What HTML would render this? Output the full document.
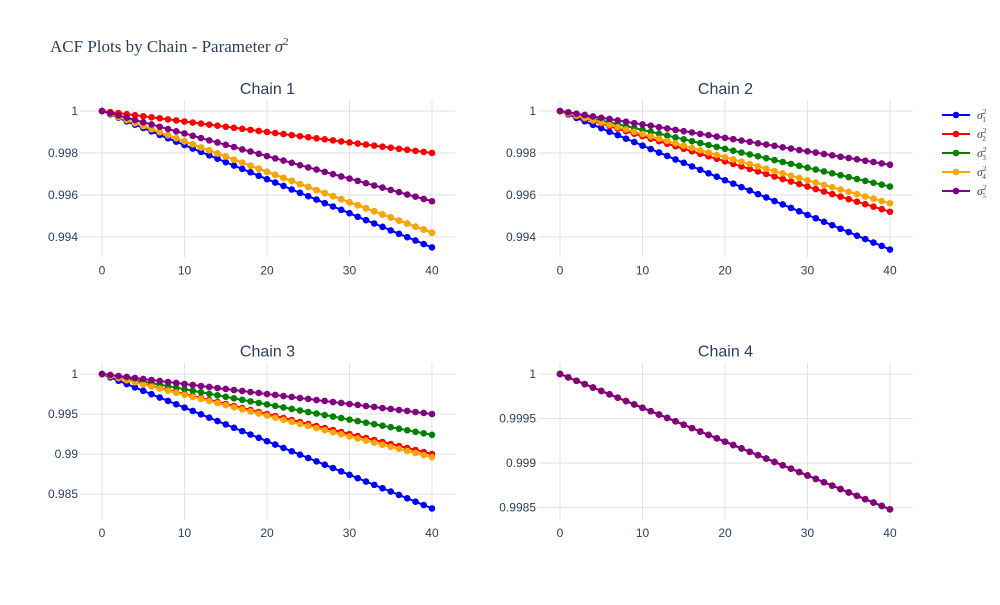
<!DOCTYPE html>
<html><head><meta charset="utf-8"><style>
body{margin:0;background:#fff;font-family:"Liberation Sans",sans-serif}
svg text{font-family:"Liberation Sans",sans-serif}
</style></head><body>
<svg id="c" width="1000" height="600" viewBox="0 0 1000 600" xmlns="http://www.w3.org/2000/svg">
<text x="50" y="52" font-size="17" fill="#2a3f5f" style="font-family:'Liberation Serif',serif">ACF Plots by Chain - Parameter <tspan font-style="italic">σ</tspan><tspan font-size="11" dy="-7">2</tspan></text>
</svg>
<script>
const lags=[...Array(41).keys()];
const seriesNames=['σ1','σ2','σ3','σ4','σ5'];
const colors=['#0000ff','#ff0000','#008000','#ffa500','#800080'];
const c1Blue=[1,.99984,.99968,.99951,.99935,.99919,.99903,.99886,.9987,.99854,.99838,.99821,.99805,.99789,.99773,.99756,.9974,.99724,.99708,.99691,.99675,.99659,.99643,.99626,.9961,.99594,.99578,.99561,.99545,.99529,.99513,.99496,.9948,.99464,.99448,.99431,.99415,.99399,.99383,.99366,.9935];
const c1Red=[1,.99995,.9999,.99985,.9998,.99975,.9997,.99965,.9996,.99955,.9995,.99945,.9994,.99935,.9993,.99925,.9992,.99915,.9991,.99905,.999,.99895,.9989,.99885,.9988,.99875,.9987,.99865,.9986,.99855,.9985,.99845,.9984,.99835,.9983,.99825,.9982,.99815,.9981,.99805,.998];
const c1Green=[1,.99986,.99971,.99957,.99942,.99928,.99913,.99899,.99884,.9987,.99855,.99841,.99826,.99812,.99797,.99783,.99768,.99754,.99739,.99725,.9971,.99696,.99681,.99667,.99652,.99638,.99623,.99609,.99594,.9958,.99565,.99551,.99536,.99522,.99507,.99493,.99478,.99464,.99449,.99435,.9942];
const c1Orange=[1,.99986,.99971,.99957,.99942,.99928,.99913,.99899,.99884,.9987,.99855,.99841,.99826,.99812,.99797,.99783,.99768,.99754,.99739,.99725,.9971,.99696,.99681,.99667,.99652,.99638,.99623,.99609,.99594,.9958,.99565,.99551,.99536,.99522,.99507,.99493,.99478,.99464,.99449,.99435,.9942];
const c1Purple=[1,.99989,.99979,.99968,.99957,.99946,.99936,.99925,.99914,.99903,.99893,.99882,.99871,.9986,.9985,.99839,.99828,.99817,.99807,.99796,.99785,.99774,.99764,.99753,.99742,.99731,.99721,.9971,.99699,.99688,.99678,.99667,.99656,.99645,.99635,.99624,.99613,.99602,.99592,.99581,.9957];
const c2Blue=[1,.99984,.99967,.99951,.99934,.99918,.99901,.99885,.99868,.99852,.99835,.99819,.99802,.99786,.99769,.99753,.99736,.9972,.99703,.99687,.9967,.99654,.99637,.99621,.99604,.99588,.99571,.99555,.99538,.99522,.99505,.99489,.99472,.99456,.99439,.99423,.99406,.9939,.99373,.99357,.9934];
const c2Red=[1,.99988,.99976,.99964,.99952,.9994,.99928,.99916,.99904,.99892,.9988,.99868,.99856,.99844,.99832,.9982,.99808,.99796,.99784,.99772,.9976,.99748,.99736,.99724,.99712,.997,.99688,.99676,.99664,.99652,.9964,.99628,.99616,.99604,.99592,.9958,.99568,.99556,.99544,.99532,.9952];
const c2Green=[1,.99991,.99982,.99973,.99964,.99955,.99946,.99937,.99928,.99919,.9991,.99901,.99892,.99883,.99874,.99865,.99856,.99847,.99838,.99829,.9982,.99811,.99802,.99793,.99784,.99775,.99766,.99757,.99748,.99739,.9973,.99721,.99712,.99703,.99694,.99685,.99676,.99667,.99658,.99649,.9964];
const c2Orange=[1,.99989,.99978,.99967,.99956,.99945,.99934,.99923,.99912,.99901,.9989,.99879,.99868,.99857,.99846,.99835,.99824,.99813,.99802,.99791,.9978,.99769,.99758,.99747,.99736,.99725,.99714,.99703,.99692,.99681,.9967,.99659,.99648,.99637,.99626,.99615,.99604,.99593,.99582,.99571,.9956];
const c2Purple=[1,.99994,.99987,.99981,.99974,.99968,.99962,.99955,.99949,.99942,.99936,.9993,.99923,.99917,.9991,.99904,.99898,.99891,.99885,.99878,.99872,.99866,.99859,.99853,.99846,.9984,.99834,.99827,.99821,.99814,.99808,.99802,.99795,.99789,.99782,.99776,.9977,.99763,.99757,.9975,.99744];
const c3Blue=[1,.99958,.99916,.99874,.99832,.9979,.99748,.99706,.99664,.99622,.9958,.99538,.99496,.99454,.99412,.9937,.99328,.99286,.99244,.99202,.9916,.99118,.99076,.99034,.98992,.9895,.98908,.98866,.98824,.98782,.9874,.98698,.98656,.98614,.98572,.9853,.98488,.98446,.98404,.98362,.9832];
const c3Red=[1,.99975,.9995,.99925,.999,.99875,.9985,.99825,.998,.99775,.9975,.99725,.997,.99675,.9965,.99625,.996,.99575,.9955,.99525,.995,.99475,.9945,.99425,.994,.99375,.9935,.99325,.993,.99275,.9925,.99225,.992,.99175,.9915,.99125,.991,.99075,.9905,.99025,.99];
const c3Green=[1,.99981,.99962,.99943,.99924,.99905,.99886,.99867,.99848,.99829,.9981,.99791,.99772,.99753,.99734,.99715,.99696,.99677,.99658,.99639,.9962,.99601,.99582,.99563,.99544,.99525,.99506,.99487,.99468,.99449,.9943,.99411,.99392,.99373,.99354,.99335,.99316,.99297,.99278,.99259,.9924];
const c3Orange=[1,.99974,.99948,.99922,.99896,.9987,.99844,.99818,.99792,.99766,.9974,.99714,.99688,.99662,.99636,.9961,.99584,.99558,.99532,.99506,.9948,.99454,.99428,.99402,.99376,.9935,.99324,.99298,.99272,.99246,.9922,.99194,.99168,.99142,.99116,.9909,.99064,.99038,.99012,.98986,.9896];
const c3Purple=[1,.99988,.99975,.99963,.9995,.99938,.99925,.99913,.999,.99888,.99875,.99863,.9985,.99838,.99825,.99813,.998,.99788,.99775,.99763,.9975,.99738,.99725,.99713,.997,.99688,.99675,.99663,.9965,.99638,.99625,.99613,.996,.99588,.99575,.99563,.9955,.99538,.99525,.99513,.995];
const c4All=[1,.999962,.999924,.999886,.999848,.99981,.999772,.999734,.999696,.999658,.99962,.999582,.999544,.999506,.999468,.99943,.999392,.999354,.999316,.999278,.99924,.999202,.999164,.999126,.999088,.99905,.999012,.998974,.998936,.998898,.99886,.998822,.998784,.998746,.998708,.99867,.998632,.998594,.998556,.998518,.99848];
const xTicks=[0,10,20,30,40];
const yTicks1=[0.994,0.996,0.998,1], yTickLabels1=['0.994','0.996','0.998','1'];
const yTicks3=[0.985,0.99,0.995,1], yTickLabels3=['0.985','0.99','0.995','1'];
const yTicks4=[0.9985,0.999,0.9995,1], yTickLabels4=['0.9985','0.999','0.9995','1'];
const panels=[
 {title:'Chain 1',x0:80,y0:100,series:[c1Blue,c1Red,c1Green,c1Orange,c1Purple],ymin:0.99302,ymax:1.000524,yt:yTicks1,yl:yTickLabels1},
 {title:'Chain 2',x0:538,y0:100,series:[c2Blue,c2Red,c2Green,c2Orange,c2Purple],ymin:0.99302,ymax:1.000524,yt:yTicks1,yl:yTickLabels1},
 {title:'Chain 3',x0:80,y0:362.5,series:[c3Blue,c3Red,c3Green,c3Orange,c3Purple],ymin:0.98175,ymax:1.00144,yt:yTicks3,yl:yTickLabels3},
 {title:'Chain 4',x0:538,y0:362.5,series:[c4All,c4All,c4All,c4All,c4All],ymin:0.99836,ymax:1.000129,yt:yTicks4,yl:yTickLabels4}
];
const W=375,H=157.5,XMIN=-2.667,XMAX=42.79;
const NS='http://www.w3.org/2000/svg';
const svg=document.getElementById('c');
function mk(t,a,p){const e=document.createElementNS(NS,t);for(const k in a)e.setAttribute(k,a[k]);(p||svg).appendChild(e);return e;}
panels.forEach((p,pi)=>{
 const g=mk('g',{});
 
 
 const sx=v=>p.x0+(v-XMIN)/(XMAX-XMIN)*W;
 const sy=v=>p.y0+(p.ymax-v)/(p.ymax-p.ymin)*H;
 xTicks.forEach(t=>{
  const l=mk('line',{x1:sx(t),x2:sx(t),y1:p.y0,y2:p.y0+H,stroke:'#e2e2e2','stroke-width':1},g);
  
  
  const tx=mk('text',{x:sx(t),y:p.y0+H+17,'text-anchor':'middle','font-size':12,fill:'#2a3f5f'},g);tx.textContent=t;
  
  
 });
 p.yt.forEach((t,i)=>{
  const l=mk('line',{x1:p.x0,x2:p.x0+W,y1:sy(t),y2:sy(t),stroke:'#e2e2e2','stroke-width':1},g);
  
  
  const tx=mk('text',{x:p.x0-2,y:sy(t)+4,'text-anchor':'end','font-size':12,fill:'#2a3f5f'},g);tx.textContent=p.yl[i];
  
  
 });
 const tt=mk('text',{x:p.x0+W/2,y:p.y0-6,'text-anchor':'middle','font-size':16,fill:'#2a3f5f'},g);tt.textContent=p.title;
 
 
 p.series.forEach((s,si)=>{
  const sg=mk('g',{},g);
  
  
  mk('polyline',{points:s.map((v,i)=>sx(lags[i])+','+sy(v)).join(' '),fill:'none',stroke:colors[si],'stroke-width':2},sg);
  s.forEach((v,i)=>{
   const c=mk('circle',{cx:sx(lags[i]),cy:sy(v),r:3.3,fill:colors[si]},sg);
   
   
  });
 });
});
const lg=mk('g',{});


seriesNames.forEach((n,i)=>{
 const y=115+i*19;
 const e=mk('g',{},lg);
 
 
 mk('line',{x1:942,x2:970,y1:y,y2:y,stroke:colors[i],'stroke-width':2},e);
 mk('circle',{cx:956,cy:y,r:3.3,fill:colors[i]},e);
 const t=mk('text',{x:977,y:y+4,'font-size':12,fill:'#2a3f5f','font-style':'italic',style:"font-family:'Liberation Serif',serif"},e);
 t.textContent='σ';
 const s1=mk('tspan',{'font-size':7,dy:-5,'font-style':'normal'},t);s1.textContent='2';
 const s2=mk('tspan',{'font-size':7,dx:-4,dy:8,'font-style':'normal'},t);s2.textContent=String(i+1);
});
</script>
</body></html>
